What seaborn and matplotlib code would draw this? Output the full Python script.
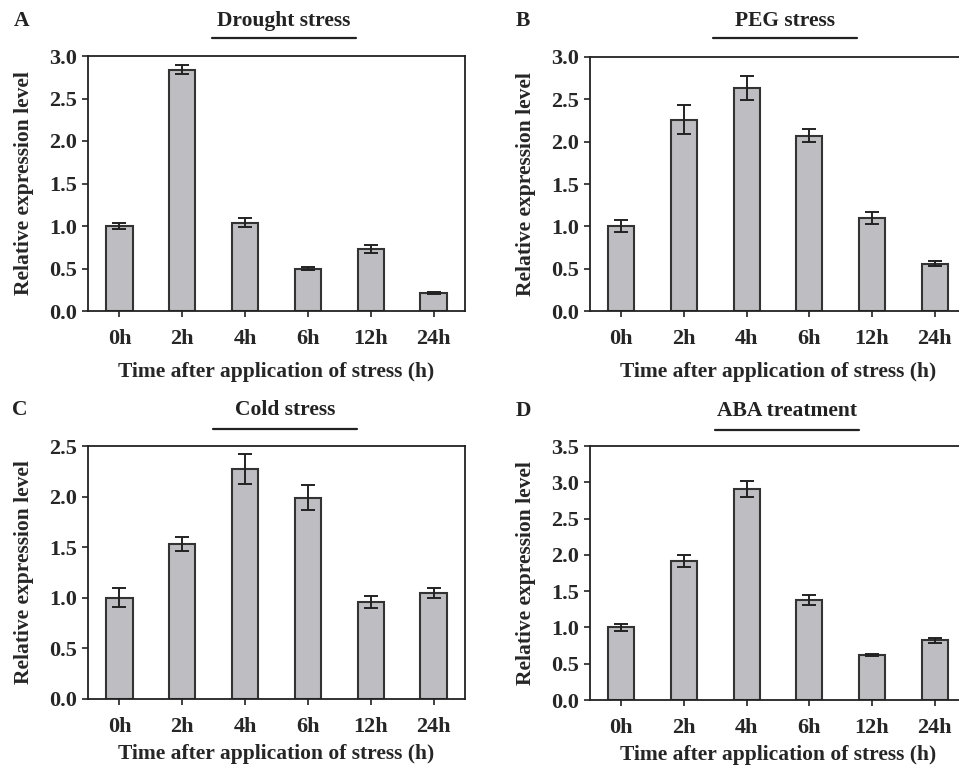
import numpy as np
import pandas as pd
import matplotlib
matplotlib.use("Agg")
import matplotlib.pyplot as plt
import seaborn as sns

# data
times = ["0h", "2h", "4h", "6h", "12h", "24h"]

drought_mean = [1.00, 2.84, 1.04, 0.50, 0.73, 0.21]
drought_err = [0.04, 0.055, 0.05, 0.02, 0.045, 0.015]

peg_mean = [1.00, 2.26, 2.63, 2.07, 1.10, 0.56]
peg_err = [0.07, 0.17, 0.14, 0.077, 0.07, 0.03]

cold_mean = [1.00, 1.53, 2.27, 1.99, 0.96, 1.05]
cold_err = [0.095, 0.067, 0.15, 0.12, 0.06, 0.05]

aba_mean = [1.00, 1.92, 2.91, 1.38, 0.62, 0.82]
aba_err = [0.046, 0.083, 0.11, 0.065, 0.012, 0.04]

panels = [
    ("A", "Drought stress", drought_mean, drought_err, 3.0),
    ("B", "PEG stress", peg_mean, peg_err, 3.0),
    ("C", "Cold stress", cold_mean, cold_err, 2.5),
    ("D", "ABA treatment", aba_mean, aba_err, 3.5),
]

sns.set_theme(style="ticks")
plt.rcParams["font.family"] = ["Liberation Serif", "DejaVu Serif"]
plt.rcParams["font.weight"] = "bold"

W, H = 959, 768
fig = plt.figure(figsize=(9.59, 7.68), dpi=100)

# axes boxes in pixels: left, top, right, bottom
boxes = [(88, 56, 465, 311), (590, 57, 966, 311),
         (88, 446, 465, 699), (590, 446, 966, 700)]
# title centre x, title y, underline y, letter x
title_pos = [(284, 21, 38, 22), (785, 21, 38, 523),
             (285, 410, 429, 20), (787, 411, 430, 523)]
xlabel_pads = [9, 9, 5, 5]
ul_half = 72

bar_color = "#bebec2"
edge = "#333333"
fs_tick = 16
fs = 15.5

for (letter, title, mean, err, ymax), (l, t, r, b), (tx, ty, uy, lx), xpad in zip(
        panels, boxes, title_pos, xlabel_pads):
    ax = fig.add_axes([l / W, 1 - b / H, (r - l) / W, (b - t) / H])
    df = pd.DataFrame({"time": times, "value": mean})
    sns.barplot(data=df, x="time", y="value", color=bar_color, width=0.42,
                edgecolor=edge, linewidth=1.5, saturation=1, errorbar=None, ax=ax)
    ax.errorbar(np.arange(len(times)), mean, yerr=err, fmt="none",
                ecolor="#222222", elinewidth=1.4, capsize=5, capthick=1.4)
    ax.set_xlim(-0.5, 5.5)
    ax.set_ylim(0, ymax)
    ticks = np.arange(0, ymax + 0.01, 0.5)
    ax.set_yticks(ticks)
    ax.set_yticklabels([f"{v:.1f}" for v in ticks])
    for s in ax.spines.values():
        s.set_visible(True)
        s.set_color("#222222")
        s.set_linewidth(1.3)
    ax.tick_params(axis="both", direction="out", length=4, width=1.2,
                   color="#222222", labelsize=fs_tick, pad=4)
    ax.tick_params(axis="x", pad=9)
    for lab in ax.get_xticklabels() + ax.get_yticklabels():
        lab.set_fontweight("bold")
    ax.set_xlabel("Time after application of stress (h)", fontsize=fs,
                  fontweight="bold", labelpad=xpad)
    ax.set_ylabel("Relative expression level", fontsize=fs,
                  fontweight="bold", labelpad=11)

    fig.text(tx / W, 1 - ty / H, title, ha="center", va="center",
             fontsize=fs, fontweight="bold", color="#222222")
    fig.add_artist(plt.Line2D([(tx - ul_half) / W, (tx + ul_half) / W],
                              [1 - uy / H, 1 - uy / H], color="#222222", lw=1.6))
    fig.text(lx / W, 1 - ty / H, letter, ha="center", va="center",
             fontsize=fs, fontweight="bold", color="#222222")

fig.savefig("out.png", dpi=100, facecolor="white")
